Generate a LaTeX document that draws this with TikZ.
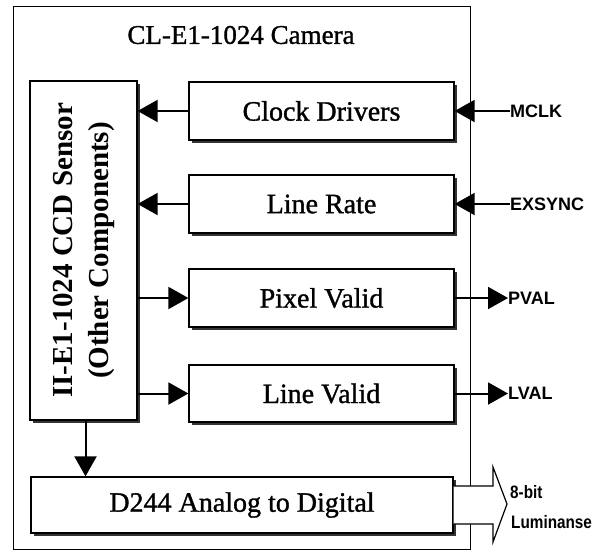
\documentclass[tikz,border=0pt]{standalone}
\usepackage{fontspec}
\setmainfont{Liberation Serif}
\newfontfamily\heavyserif[FakeBold=1.2]{Liberation Serif}
\newfontfamily\lblfont{Liberation Sans}
\newfontfamily\narrowfont[FakeStretch=0.85]{Liberation Sans}
\usetikzlibrary{arrows.meta,shadows}
\begin{document}
\begin{tikzpicture}[x=1pt,y=-1pt,
  blk/.style={draw, line width=1.3pt, fill=white, rectangle, inner sep=0pt,
    drop shadow={shadow xshift=3pt, shadow yshift=-3pt, fill=black!80, opacity=1},
    font=\heavyserif\fontsize{28}{32}\selectfont},
  arr/.style={line width=2pt, -{Triangle[length=20pt,width=22pt]}},
  sig/.style={font=\lblfont\bfseries\fontsize{18}{20}\selectfont, inner sep=0pt, anchor=west}]
\useasboundingbox (0,0) rectangle (600,550);

% camera enclosure
\node[draw, line width=1pt, rectangle, inner sep=0pt, minimum width=457pt, minimum height=543pt] (cam) at (241.5,277.5) {};
\node[font=\heavyserif\fontsize{27}{30}\selectfont, inner sep=0pt] (title) at (241,35) {CL-E1-1024 Camera};

% blocks
\node[blk, minimum width=107pt, minimum height=339pt] (sensor) at (83.5,250.5) {};
\node[rotate=90, align=center, inner sep=0pt, font=\bfseries\fontsize{29}{36}\selectfont] (sensortxt) at (sensor.center) {II-E1-1024 CCD Sensor\\(Other Components)};
\node[blk, minimum width=265pt, minimum height=58pt] (clock) at (321.5,111) {Clock Drivers};
\node[blk, minimum width=265pt, minimum height=58pt] (rate) at (321.5,204) {Line Rate};
\node[blk, minimum width=265pt, minimum height=58pt] (pixel) at (321.5,298) {Pixel Valid};
\node[blk, minimum width=265pt, minimum height=57pt] (lval) at (321.5,393.5) {Line Valid};
\node[blk, minimum width=422pt, minimum height=56pt] (adc) at (242,505) {D244 Analog to Digital};

% external signal labels
\node[sig] (mclk) at (510,111) {MCLK};
\node[sig] (exsync) at (510,204) {EXSYNC};
\node[sig] (pvalt) at (508,298) {PVAL};
\node[sig] (lvalt) at (508,393.5) {LVAL};
\node[font=\narrowfont\bfseries\fontsize{18}{20}\selectfont, inner sep=0pt, anchor=base west] (bits) at (510,498) {8-bit};
\node[font=\narrowfont\bfseries\fontsize{18}{20}\selectfont, inner sep=0pt, anchor=base west] (lum) at (511,528) {Luminanse};

% connectors
\draw[arr] (clock.west) -- (sensor.east |- clock.west);
\draw[arr] (rate.west) -- (sensor.east |- rate.west);
\draw[arr] (sensor.east |- pixel.west) -- (pixel.west);
\draw[arr] (sensor.east |- lval.west) -- (lval.west);
\draw[arr] ([xshift=2pt]sensor.south) -- ([xshift=2pt]sensor.south |- adc.north);
\draw[arr] (mclk.west) -- (clock.east);
\draw[arr] (exsync.west) -- (rate.east);
\draw[arr] (pixel.east) -- (pvalt.west);
\draw[arr] (lval.east) -- (lvalt.west);

% wide output arrow
\coordinate (outtip) at (507,504);
\draw[line width=1.2pt, fill=white, line join=miter]
  ([shift={(0,-19)}]adc.east) -- (493,486) -- (493,467) -- (outtip) -- (493,542) -- (493,524) -- ([shift={(0,19)}]adc.east);
\end{tikzpicture}
\end{document}
